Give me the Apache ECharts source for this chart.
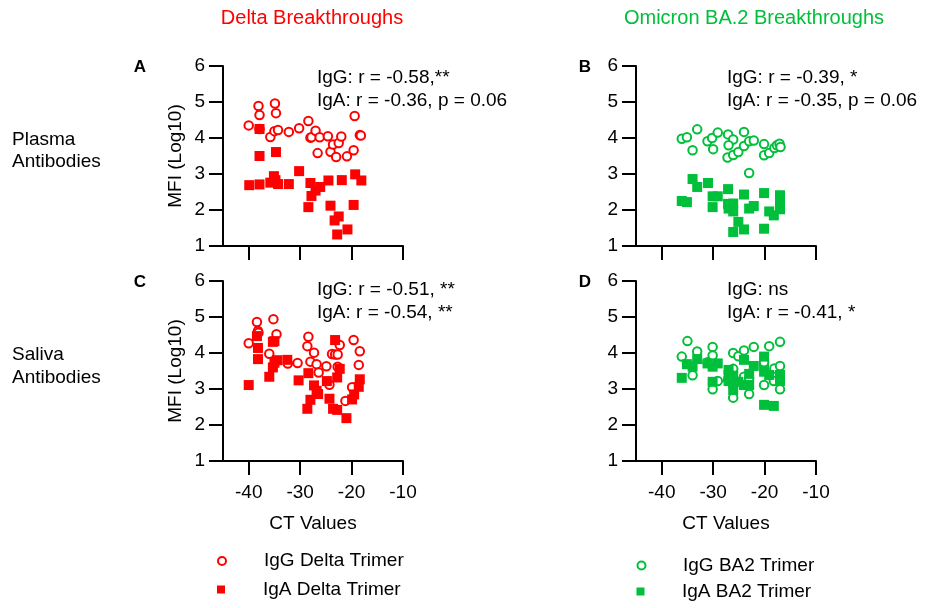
<!DOCTYPE html>
<html>
<head>
<meta charset="utf-8">
<script src="https://cdn.jsdelivr.net/npm/echarts@6/dist/echarts.min.js"></script>
<style>
html,body{margin:0;padding:0;background:#fff;}
#chart{width:926px;height:608px;}
</style>
</head>
<body>
<div id="chart"></div>
<script>
// ---- data (CT value, log10 MFI) ----
const CT_TICKS = [-40, -30, -20, -10];

const deltaPlasmaIgG = [[-40.0,4.35],[-38.1,4.89],[-37.9,4.64],[-37.9,4.25],[-34.9,4.96],[-34.7,4.69],[-35.8,4.03],[-35.0,4.19],[-34.3,4.22],[-32.2,4.17],[-30.2,4.27],[-28.4,4.47],[-28.0,4.01],[-27.8,4.02],[-27.0,4.20],[-26.2,4.02],[-26.6,3.58],[-24.6,4.05],[-24.1,3.62],[-23.6,3.82],[-23.0,3.47],[-22.5,3.86],[-22.0,4.04],[-20.9,3.49],[-19.6,3.66],[-19.4,4.61],[-18.4,4.08],[-18.2,4.07]];
const deltaPlasmaIgA = [[-39.9,2.69],[-37.9,2.71],[-37.9,3.50],[-37.9,4.25],[-34.7,3.61],[-35.8,2.76],[-35.1,2.94],[-34.8,2.83],[-34.3,2.72],[-32.2,2.72],[-30.2,3.08],[-28.0,2.75],[-27.8,2.39],[-27.0,2.54],[-26.1,2.64],[-28.4,2.08],[-24.5,2.82],[-24.1,2.12],[-23.3,1.71],[-22.5,1.82],[-22.8,1.32],[-20.8,1.46],[-21.9,2.83],[-19.6,2.14],[-19.3,2.99],[-18.1,2.82]];

const ba2PlasmaIgG = [[-36.1,3.98],[-35.1,4.02],[-34.0,3.66],[-33.1,4.24],[-31.1,3.91],[-30.2,4.00],[-30.0,3.69],[-29.1,4.15],[-27.1,4.10],[-26.1,3.96],[-27.0,3.80],[-27.2,3.46],[-26.1,3.53],[-25.1,3.61],[-24.0,4.17],[-24.0,3.78],[-23.0,3.91],[-22.1,3.93],[-23.0,3.03],[-20.1,3.83],[-20.1,3.52],[-19.1,3.58],[-18.1,3.72],[-17.6,3.80],[-17.1,3.84],[-16.9,3.75]];
const ba2PlasmaIgA = [[-36.1,2.25],[-35.1,2.22],[-34.0,2.86],[-33.1,2.64],[-31.0,2.75],[-30.1,2.38],[-30.1,2.08],[-29.1,2.38],[-27.1,2.58],[-27.1,2.17],[-27.0,2.04],[-26.1,2.18],[-26.1,1.96],[-25.1,1.67],[-26.1,1.39],[-24.0,1.46],[-24.0,2.43],[-23.0,2.04],[-22.1,2.11],[-20.1,2.47],[-20.1,1.48],[-19.1,1.96],[-18.2,1.85],[-17.0,2.41],[-17.0,2.27],[-17.0,2.02]];

const deltaSalivaIgG = [[-40.0,4.27],[-38.4,4.86],[-38.2,4.61],[-38.1,4.56],[-35.2,4.94],[-34.6,4.52],[-36.0,3.98],[-32.4,3.71],[-30.5,3.72],[-28.4,4.45],[-28.6,4.19],[-27.3,4.01],[-28.0,3.76],[-26.8,3.69],[-26.4,3.46],[-24.9,3.63],[-24.3,3.12],[-23.8,3.97],[-23.2,3.96],[-22.7,3.96],[-22.3,4.22],[-22.7,3.62],[-19.6,4.36],[-18.4,4.05],[-18.6,3.67],[-19.9,3.05],[-21.2,2.67]];
const deltaSalivaIgA = [[-40.0,3.11],[-38.4,4.47],[-38.2,4.14],[-38.2,3.83],[-36.0,3.34],[-35.3,4.31],[-35.0,4.33],[-35.3,3.60],[-35.0,3.73],[-34.5,3.80],[-32.5,3.81],[-30.3,3.24],[-28.4,3.44],[-27.3,3.10],[-28.0,2.70],[-28.6,2.45],[-26.8,2.95],[-26.5,2.86],[-24.8,3.22],[-24.3,2.73],[-23.6,2.45],[-22.8,2.42],[-23.2,4.36],[-22.8,3.32],[-22.3,3.56],[-21.0,2.19],[-19.9,2.71],[-19.5,2.85],[-18.6,3.06],[-18.4,3.27]];

const ba2SalivaIgG = [[-36.1,3.90],[-35.0,4.33],[-33.1,4.04],[-34.0,3.38],[-30.1,4.17],[-30.1,3.93],[-31.1,3.74],[-29.1,3.22],[-30.1,2.99],[-26.1,4.00],[-25.1,3.91],[-24.0,4.07],[-22.1,4.17],[-26.1,3.56],[-24.0,3.34],[-23.0,3.30],[-26.1,2.76],[-23.0,2.86],[-19.1,4.19],[-17.0,4.31],[-20.1,3.67],[-18.1,3.57],[-17.0,3.64],[-18.2,3.22],[-20.1,3.11],[-17.0,2.99],[-20.1,3.74],[-27.1,3.25]];
const ba2SalivaIgA = [[-36.1,3.31],[-35.1,3.69],[-34.0,3.62],[-33.1,3.83],[-31.1,3.71],[-30.1,3.62],[-29.1,3.71],[-30.1,3.20],[-27.0,3.53],[-27.0,3.39],[-27.0,3.22],[-26.1,3.16],[-26.1,2.97],[-25.1,3.20],[-24.0,3.81],[-24.0,3.11],[-23.0,3.11],[-23.0,3.42],[-22.1,3.64],[-20.1,3.90],[-20.1,3.48],[-19.1,3.39],[-17.0,3.39],[-17.0,3.22],[-20.1,2.56],[-18.2,2.53],[-26.1,3.37]];

const SERIES_NAMES = ['IgG Delta Trimer', 'IgA Delta Trimer', 'IgG BA2 Trimer', 'IgA BA2 Trimer'];
const PANEL_TEXT = {
  A: ['IgG: r = -0.58,**', 'IgA: r = -0.36, p = 0.06'],
  B: ['IgG: r = -0.39, *', 'IgA: r = -0.35, p = 0.06'],
  C: ['IgG: r = -0.51, **', 'IgA: r = -0.54, **'],
  D: ['IgG: ns', 'IgA: r = -0.41, *']
};

// ---- styling ----
const RED = '#FF0000';
const GREEN = '#00BF3A';
const FONT = '"Liberation Sans", Arial, sans-serif';
const FS = 19;

const grids = [
  {left: 223, top: 66, width: 180, height: 180},
  {left: 636, top: 66, width: 180, height: 180},
  {left: 223, top: 281, width: 180, height: 180},
  {left: 636, top: 281, width: 180, height: 180}
];

function xAx(i, bottom) {
  return {
    type: 'value', gridIndex: i, min: -45, max: -10,
    name: bottom ? 'CT Values' : '', nameLocation: 'middle', nameGap: 53,
    nameTextStyle: {fontFamily: FONT, fontSize: FS, color: '#000'},
    axisLine: {show: true, onZero: false, lineStyle: {color: '#000', width: 2}},
    axisTick: {show: true, length: 14, customValues: CT_TICKS, lineStyle: {color: '#000', width: 2}},
    axisLabel: {show: bottom, customValues: CT_TICKS, fontFamily: FONT, fontSize: FS, color: '#000', margin: 22},
    splitLine: {show: false}
  };
}
function yAx(i, left) {
  return {
    type: 'value', gridIndex: i, min: 1, max: 6, interval: 1,
    name: left ? 'MFI (Log10)' : '', nameLocation: 'middle', nameGap: 38, nameRotate: 90,
    nameTextStyle: {fontFamily: FONT, fontSize: FS, color: '#000'},
    axisLine: {show: true, onZero: false, lineStyle: {color: '#000', width: 2}},
    axisTick: {show: true, length: 14, lineStyle: {color: '#000', width: 2}},
    axisLabel: {show: true, fontFamily: FONT, fontSize: FS, color: '#000', margin: 18},
    splitLine: {show: false}
  };
}

function hollow(name, data, idx, color) {
  return {
    type: 'scatter', name: name, data: data, xAxisIndex: idx, yAxisIndex: idx,
    symbol: 'circle', symbolSize: 8.5,
    itemStyle: {color: '#fff', borderColor: color, borderWidth: 2, opacity: 1},
    emphasis: {disabled: true}, z: 2
  };
}
function filled(name, data, idx, color) {
  return {
    type: 'scatter', name: name, data: data, xAxisIndex: idx, yAxisIndex: idx,
    symbol: 'rect', symbolSize: 10,
    itemStyle: {color: color, opacity: 1},
    emphasis: {disabled: true}, z: 3
  };
}

function txt(x, y, text, opts) {
  opts = opts || {};
  return {
    type: 'text', x: x, y: y, silent: true,
    style: {
      text: text, fill: opts.fill || '#000',
      font: (opts.weight || 'normal') + ' ' + (opts.size || FS) + 'px ' + FONT,
      align: opts.align || 'left', verticalAlign: 'middle'
    }
  };
}

const graphics = [
  txt(312, 18, 'Delta Breakthroughs', {fill: RED, align: 'center', size: 20}),
  txt(754, 18, 'Omicron BA.2 Breakthroughs', {fill: GREEN, align: 'center', size: 20}),
  txt(140, 67.5, 'A', {weight: 'bold', size: 17, align: 'center'}),
  txt(585, 67.5, 'B', {weight: 'bold', size: 17, align: 'center'}),
  txt(140, 282.5, 'C', {weight: 'bold', size: 17, align: 'center'}),
  txt(585, 282.5, 'D', {weight: 'bold', size: 17, align: 'center'}),
  txt(12, 140, 'Plasma'), txt(12, 162, 'Antibodies'),
  txt(12, 355, 'Saliva'), txt(12, 378, 'Antibodies'),
  txt(317, 78, PANEL_TEXT.A[0]), txt(317, 101, PANEL_TEXT.A[1]),
  txt(727, 78, PANEL_TEXT.B[0]), txt(727, 101, PANEL_TEXT.B[1]),
  txt(317, 290, PANEL_TEXT.C[0]), txt(317, 313, PANEL_TEXT.C[1]),
  txt(727, 290, PANEL_TEXT.D[0]), txt(727, 313, PANEL_TEXT.D[1])
];

function legendItem(name, cx, cy, textX) {
  const size = 8;
  return {
    data: [name], orient: 'horizontal', left: cx - size / 2, top: cy - 9.5,
    itemWidth: size, itemHeight: size, selectedMode: false, padding: 0,
    textStyle: {fontFamily: FONT, fontSize: FS, color: '#000', lineHeight: 19,
      padding: [0, 0, 0, textX - (cx + size / 2) - 5]}
  };
}

const option = {
  animation: false,
  backgroundColor: '#fff',
  grid: grids,
  xAxis: [xAx(0, false), xAx(1, false), xAx(2, true), xAx(3, true)],
  yAxis: [yAx(0, true), yAx(1, false), yAx(2, true), yAx(3, false)],
  legend: [
    legendItem(SERIES_NAMES[0], 221, 561, 263),
    legendItem(SERIES_NAMES[1], 221, 589.5, 263),
    legendItem(SERIES_NAMES[2], 640.5, 565.5, 682),
    legendItem(SERIES_NAMES[3], 640.5, 591.5, 682)
  ],
  graphic: graphics,
  series: [
    hollow(SERIES_NAMES[0], deltaPlasmaIgG, 0, RED),
    filled(SERIES_NAMES[1], deltaPlasmaIgA, 0, RED),
    hollow(SERIES_NAMES[2], ba2PlasmaIgG, 1, GREEN),
    filled(SERIES_NAMES[3], ba2PlasmaIgA, 1, GREEN),
    hollow(SERIES_NAMES[0], deltaSalivaIgG, 2, RED),
    filled(SERIES_NAMES[1], deltaSalivaIgA, 2, RED),
    hollow(SERIES_NAMES[2], ba2SalivaIgG, 3, GREEN),
    filled(SERIES_NAMES[3], ba2SalivaIgA, 3, GREEN)
  ]
};

const chart = echarts.init(document.getElementById('chart'), null, {renderer: 'canvas'});
chart.setOption(option);
</script>
</body>
</html>
